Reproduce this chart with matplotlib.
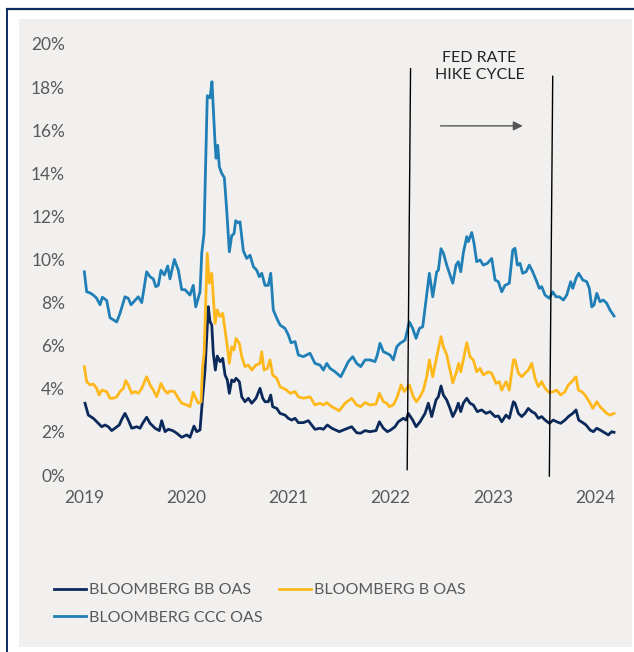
import matplotlib
matplotlib.use("Agg")
import matplotlib.pyplot as plt
from matplotlib.patches import Rectangle
from matplotlib.lines import Line2D

plt.rcParams['font.family'] = ['Lato', 'DejaVu Sans']

# dates as fractional years, spreads in %
bb_x = [2019.010, 2019.042, 2019.091, 2019.140, 2019.173, 2019.205, 2019.238, 2019.271, 2019.303, 2019.345,
        2019.369, 2019.401, 2019.433, 2019.467, 2019.516, 2019.548, 2019.574, 2019.613, 2019.646, 2019.695,
        2019.737, 2019.760, 2019.793, 2019.825, 2019.868, 2019.907, 2019.956, 2020.005, 2020.037, 2020.076,
        2020.103, 2020.135, 2020.161, 2020.184, 2020.216, 2020.233, 2020.250, 2020.265, 2020.285, 2020.304,
        2020.331, 2020.357, 2020.380, 2020.402, 2020.422, 2020.445, 2020.468, 2020.487, 2020.520, 2020.543,
        2020.575, 2020.608, 2020.641, 2020.683, 2020.722, 2020.749, 2020.771, 2020.803, 2020.827, 2020.846,
        2020.886, 2020.918, 2020.967, 2020.999, 2021.032, 2021.065, 2021.097, 2021.146, 2021.195, 2021.260,
        2021.309, 2021.342, 2021.381, 2021.424, 2021.498, 2021.554, 2021.619, 2021.668, 2021.707, 2021.750,
        2021.798, 2021.857, 2021.890, 2021.929, 2021.968, 2022.001, 2022.043, 2022.075, 2022.124, 2022.151,
        2022.173, 2022.216, 2022.249, 2022.288, 2022.337, 2022.369, 2022.402, 2022.444, 2022.467, 2022.493,
        2022.516, 2022.549, 2022.581, 2022.608, 2022.640, 2022.662, 2022.686, 2022.711, 2022.745, 2022.777,
        2022.809, 2022.848, 2022.891, 2022.933, 2022.973, 2023.022, 2023.054, 2023.087, 2023.129, 2023.161,
        2023.201, 2023.217, 2023.250, 2023.283, 2023.315, 2023.347, 2023.381, 2023.413, 2023.445, 2023.478,
        2023.511, 2023.553, 2023.592, 2023.625, 2023.664, 2023.706, 2023.739, 2023.782, 2023.814, 2023.840,
        2023.880, 2023.912, 2023.951, 2023.984, 2024.017, 2024.049, 2024.088, 2024.130, 2024.163, 2024.186]
bb_y = [3.33, 2.78, 2.63, 2.40, 2.24, 2.32, 2.24, 2.06, 2.17, 2.32,
        2.58, 2.86, 2.55, 2.17, 2.24, 2.17, 2.40, 2.68, 2.40, 2.17,
        2.06, 2.52, 2.01, 2.12, 2.06, 1.94, 1.75, 1.86, 1.75, 2.27,
        2.01, 2.09, 3.63, 4.87, 7.81, 7.11, 6.96, 5.65, 4.87, 5.52,
        5.26, 5.41, 4.64, 4.41, 3.79, 4.41, 4.33, 4.49, 4.33, 3.63,
        3.40, 3.56, 3.33, 3.56, 4.02, 3.56, 3.40, 3.40, 3.71, 3.17,
        3.09, 2.86, 2.78, 2.63, 2.55, 2.63, 2.43, 2.43, 2.52, 2.12,
        2.17, 2.12, 2.32, 2.17, 2.01, 2.12, 2.24, 1.96, 1.94, 2.06,
        2.01, 2.06, 2.47, 2.17, 2.01, 2.09, 2.24, 2.47, 2.63, 2.55,
        2.86, 2.55, 2.24, 2.47, 2.86, 3.33, 2.71, 3.48, 3.63, 4.13,
        3.71, 3.48, 3.09, 2.71, 3.02, 3.33, 2.94, 3.33, 3.56, 3.33,
        3.25, 2.94, 3.02, 2.86, 2.94, 2.71, 2.74, 2.47, 2.78, 2.63,
        3.40, 3.33, 2.86, 2.71, 2.86, 3.09, 2.94, 2.86, 2.63, 2.71,
        2.55, 2.40, 2.55, 2.47, 2.40, 2.55, 2.71, 2.86, 3.02, 2.55,
        2.43, 2.32, 2.09, 2.01, 2.17, 2.09, 1.98, 1.86, 2.01, 1.98]

b_x = [2019.003, 2019.026, 2019.059, 2019.091, 2019.124, 2019.147, 2019.173, 2019.222, 2019.254, 2019.287,
       2019.320, 2019.352, 2019.385, 2019.408, 2019.433, 2019.467, 2019.499, 2019.531, 2019.565, 2019.613,
       2019.646, 2019.678, 2019.711, 2019.753, 2019.786, 2019.819, 2019.841, 2019.884, 2019.923, 2019.956,
       2020.005, 2020.037, 2020.069, 2020.093, 2020.118, 2020.145, 2020.160, 2020.175, 2020.206, 2020.226,
       2020.250, 2020.282, 2020.304, 2020.331, 2020.357, 2020.380, 2020.402, 2020.422, 2020.445, 2020.468,
       2020.487, 2020.520, 2020.543, 2020.575, 2020.608, 2020.641, 2020.683, 2020.722, 2020.739, 2020.761,
       2020.794, 2020.820, 2020.846, 2020.886, 2020.918, 2020.950, 2020.983, 2021.016, 2021.065, 2021.097,
       2021.146, 2021.211, 2021.260, 2021.309, 2021.342, 2021.375, 2021.424, 2021.498, 2021.554, 2021.619,
       2021.668, 2021.707, 2021.750, 2021.798, 2021.857, 2021.890, 2021.929, 2021.962, 2021.987, 2022.026,
       2022.060, 2022.102, 2022.134, 2022.183, 2022.222, 2022.252, 2022.288, 2022.320, 2022.353, 2022.379,
       2022.412, 2022.451, 2022.493, 2022.516, 2022.549, 2022.581, 2022.608, 2022.640, 2022.666, 2022.686,
       2022.711, 2022.745, 2022.777, 2022.809, 2022.842, 2022.875, 2022.907, 2022.956, 2022.989, 2023.031,
       2023.064, 2023.087, 2023.129, 2023.161, 2023.201, 2023.217, 2023.250, 2023.283, 2023.315, 2023.347,
       2023.381, 2023.413, 2023.445, 2023.478, 2023.511, 2023.553, 2023.592, 2023.625, 2023.664, 2023.706,
       2023.739, 2023.772, 2023.814, 2023.837, 2023.870, 2023.902, 2023.944, 2023.978, 2024.017, 2024.049,
       2024.081, 2024.114, 2024.146, 2024.186]
b_y = [5.03, 4.33, 4.18, 4.22, 4.02, 3.71, 3.94, 3.87, 3.56, 3.56,
       3.63, 3.87, 4.02, 4.38, 4.18, 3.79, 3.87, 3.79, 4.02, 4.56,
       4.18, 3.94, 3.63, 4.25, 3.94, 3.79, 3.90, 3.87, 3.56, 3.33,
       3.25, 3.17, 3.84, 3.56, 3.33, 3.40, 5.00, 5.65, 10.29, 8.90,
       9.36, 7.04, 7.66, 7.35, 7.50, 6.73, 5.95, 5.18, 5.95, 5.80,
       6.34, 6.11, 5.49, 5.03, 5.10, 4.87, 5.10, 5.18, 5.72, 4.87,
       4.95, 5.34, 4.64, 4.49, 4.10, 4.02, 3.94, 3.79, 3.87, 3.63,
       3.56, 3.63, 3.25, 3.33, 3.25, 3.36, 3.17, 2.98, 3.33, 3.56,
       3.25, 3.17, 3.36, 3.25, 3.29, 3.79, 3.40, 3.33, 3.17, 3.25,
       3.56, 4.18, 3.87, 4.18, 3.63, 3.40, 3.63, 3.94, 4.56, 5.34,
       4.56, 5.49, 6.42, 5.95, 5.57, 4.87, 4.28, 4.72, 5.18, 4.79,
       5.34, 6.14, 5.49, 5.34, 4.79, 4.95, 4.64, 4.79, 4.72, 4.25,
       4.33, 3.94, 4.33, 3.94, 5.34, 5.34, 4.72, 4.56, 4.72, 4.87,
       5.18, 4.49, 4.10, 4.33, 4.02, 3.82, 3.87, 3.94, 3.71, 3.87,
       4.18, 4.33, 4.56, 3.94, 3.87, 3.71, 3.40, 3.09, 3.40, 3.17,
       3.02, 2.86, 2.78, 2.86]

ccc_x = [2019.003, 2019.026, 2019.059, 2019.091, 2019.124, 2019.157, 2019.179, 2019.222, 2019.254, 2019.287,
         2019.320, 2019.352, 2019.401, 2019.433, 2019.460, 2019.499, 2019.531, 2019.565, 2019.613, 2019.646,
         2019.678, 2019.702, 2019.727, 2019.753, 2019.786, 2019.819, 2019.841, 2019.884, 2019.923, 2019.956,
         2019.988, 2020.037, 2020.069, 2020.093, 2020.135, 2020.152, 2020.174, 2020.206, 2020.233, 2020.252,
         2020.282, 2020.292, 2020.308, 2020.324, 2020.347, 2020.373, 2020.396, 2020.422, 2020.445, 2020.468,
         2020.484, 2020.510, 2020.526, 2020.559, 2020.592, 2020.624, 2020.657, 2020.690, 2020.715, 2020.739,
         2020.771, 2020.803, 2020.827, 2020.852, 2020.886, 2020.918, 2020.967, 2020.999, 2021.025, 2021.065,
         2021.097, 2021.146, 2021.211, 2021.260, 2021.309, 2021.342, 2021.375, 2021.407, 2021.456, 2021.512,
         2021.554, 2021.586, 2021.629, 2021.668, 2021.707, 2021.750, 2021.798, 2021.847, 2021.870, 2021.896,
         2021.929, 2021.962, 2021.994, 2022.026, 2022.060, 2022.092, 2022.141, 2022.183, 2022.216, 2022.249,
         2022.281, 2022.314, 2022.346, 2022.379, 2022.412, 2022.451, 2022.467, 2022.493, 2022.516, 2022.549,
         2022.581, 2022.608, 2022.640, 2022.662, 2022.686, 2022.711, 2022.745, 2022.760, 2022.794, 2022.816,
         2022.842, 2022.875, 2022.907, 2022.946, 2022.989, 2023.022, 2023.054, 2023.087, 2023.119, 2023.161,
         2023.195, 2023.217, 2023.240, 2023.266, 2023.292, 2023.325, 2023.357, 2023.390, 2023.423, 2023.455,
         2023.478, 2023.511, 2023.553, 2023.586, 2023.618, 2023.651, 2023.690, 2023.723, 2023.762, 2023.782,
         2023.814, 2023.840, 2023.880, 2023.919, 2023.944, 2023.968, 2023.990, 2024.017, 2024.049, 2024.081,
         2024.114, 2024.146, 2024.186]
ccc_y = [9.43, 8.50, 8.45, 8.35, 8.20, 7.90, 8.25, 8.10, 7.30, 7.20,
         7.10, 7.50, 8.27, 8.20, 7.90, 8.10, 8.27, 8.00, 9.43, 9.20,
         9.10, 8.74, 8.80, 9.50, 9.28, 9.70, 9.10, 10.00, 9.50, 8.60,
         8.60, 8.35, 8.80, 7.80, 8.50, 10.30, 11.20, 17.60, 17.50, 18.25,
         15.40, 14.70, 15.30, 14.30, 14.00, 13.80, 12.30, 10.36, 11.10, 11.20,
         11.80, 11.70, 11.75, 10.40, 10.05, 10.20, 9.67, 9.50, 9.20, 9.36,
         8.80, 8.80, 9.36, 7.66, 7.27, 6.96, 6.80, 6.50, 6.14, 6.19,
         5.57, 5.49, 5.65, 5.18, 5.10, 4.87, 5.18, 4.95, 4.79, 4.56,
         4.95, 5.26, 5.49, 5.18, 5.03, 5.34, 5.34, 5.26, 5.57, 6.11,
         5.72, 5.65, 5.57, 5.34, 5.95, 6.11, 6.26, 7.11, 6.80, 6.34,
         6.80, 6.88, 8.12, 9.36, 8.27, 9.43, 9.50, 10.50, 10.30, 9.74,
         9.28, 8.90, 9.74, 9.90, 9.43, 10.30, 11.06, 10.83, 11.25, 10.75,
         9.90, 9.98, 9.74, 9.82, 10.05, 9.05, 8.97, 8.50, 8.80, 8.90,
         10.44, 10.52, 9.74, 9.82, 9.36, 9.43, 9.74, 9.43, 9.05, 8.66,
         8.74, 8.35, 8.20, 8.50, 8.27, 8.27, 8.12, 8.35, 8.97, 8.66,
         9.13, 9.36, 9.05, 8.97, 8.66, 7.80, 7.89, 8.43, 8.04, 8.12,
         7.97, 7.66, 7.38]

series_labels = ['BLOOMBERG BB OAS', 'BLOOMBERG B OAS', 'BLOOMBERG CCC OAS']
series_colors = ['#0b2a5b', '#ffb81c', '#1f7fb6']
year_ticks = [2019, 2020, 2021, 2022, 2023, 2024]
pct_ticks = [0, 2, 4, 6, 8, 10, 12, 14, 16, 18, 20]

# hike cycle markers (start / end), slightly slanted as drawn
hike_start = [(2022.195, 18.85), (2022.162, 0.25)]
hike_end = [(2023.586, 18.5), (2023.553, -0.05)]

fig = plt.figure(figsize=(6.34, 6.52), dpi=100)
fig.patch.set_facecolor('white')

# grey panel and navy frame
fig.patches.append(Rectangle((19 / 634, 1 - 647 / 652), 613 / 634, 628 / 652,
                             transform=fig.transFigure, facecolor='#f1f0ee',
                             edgecolor='none', zorder=0))
fig.add_artist(Line2D([7 / 634, 7 / 634], [0, 1 - 9 / 652], color='#0d2d5e', lw=1.4))
fig.add_artist(Line2D([7 / 634, 1], [1 - 9 / 652, 1 - 9 / 652], color='#0d2d5e', lw=1.6))

ax = fig.add_axes([78.9 / 634, 177 / 652, 546.8 / 634, 431 / 652])
ax.set_zorder(2)
ax.set_facecolor('none')

ax.plot(bb_x, bb_y, color=series_colors[0], lw=2.0, label=series_labels[0])
ax.plot(b_x, b_y, color=series_colors[1], lw=2.0, label=series_labels[1])
ax.plot(ccc_x, ccc_y, color=series_colors[2], lw=2.0, label=series_labels[2])

for seg in (hike_start, hike_end):
    ax.plot([p[0] for p in seg], [p[1] for p in seg], color='black', lw=1.0, clip_on=False)

ax.text(2022.87, 18.95, 'FED RATE\nHIKE CYCLE', ha='center', va='center',
        fontsize=11.5, color='#222222', linespacing=1.3)
ax.annotate('', xy=(2023.32, 16.2), xytext=(2022.46, 16.2),
            arrowprops=dict(arrowstyle='-|>', color='#555555', lw=1.0,
                            mutation_scale=14))

ax.set_xlim(2018.95, 2024.3)
ax.set_ylim(0, 20)
ax.set_xticks(year_ticks)
ax.set_xticklabels([str(y) for y in year_ticks])
ax.set_yticks(pct_ticks)
ax.set_yticklabels([f'{t}%' for t in pct_ticks])
ax.tick_params(axis='both', length=0, labelsize=12.5, colors='#595959')
ax.tick_params(axis='y', pad=10)
ax.tick_params(axis='x', pad=11)
for s in ax.spines.values():
    s.set_visible(False)

handles, labels = ax.get_legend_handles_labels()
order = [0, 2, 1]
leg = fig.legend([handles[i] for i in order], [labels[i] for i in order],
                 ncol=2, loc='upper left', bbox_to_anchor=(54 / 634, 1 - 583 / 652),
                 frameon=False, fontsize=11.5, handlelength=2.0, handletextpad=0.2,
                 columnspacing=1.0, labelspacing=0.85, borderpad=0, borderaxespad=0,
                 labelcolor='#595959')
leg.set_zorder(3)

fig.savefig('out.png', dpi=100)
